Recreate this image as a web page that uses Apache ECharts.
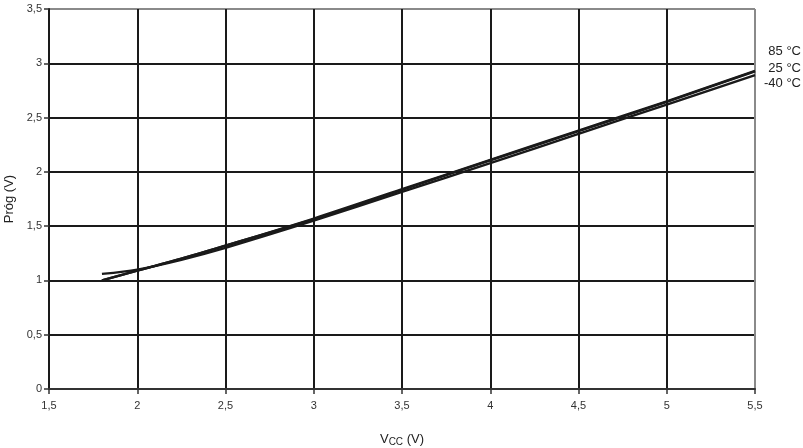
<!DOCTYPE html>
<html><head><meta charset="utf-8">
<script src="https://cdn.jsdelivr.net/npm/echarts@6/dist/echarts.min.js"></script>
<style>html,body{margin:0;padding:0;background:#fff}#c{width:803px;height:448px}</style>
</head><body><div id="c"></div>
<script>
var vcc = [1.8, 2.0, 2.25, 2.5, 3.0, 3.5, 4.0, 4.5, 5.0, 5.5];
var t85 = [1.00, 1.09, 1.20, 1.32, 1.57, 1.84, 2.11, 2.38, 2.65, 2.93];
var t25 = [1.00, 1.09, 1.20, 1.32, 1.565, 1.835, 2.105, 2.375, 2.645, 2.925];
var tm40 = [1.06, 1.10, 1.19, 1.30, 1.55, 1.815, 2.08, 2.35, 2.62, 2.89];
var seriesNames = ['85 °C', '25 °C', '-40 °C'];
var xTicks = [1.5, 2, 2.5, 3, 3.5, 4, 4.5, 5, 5.5];
var yTicks = [0, 0.5, 1, 1.5, 2, 2.5, 3, 3.5];

function pairs(ys){ return vcc.map(function(x,i){return [x, ys[i]];}); }
function fmt(v){ return String(v).replace('.', ','); }
var dark = '#1a1a1a';
var xCols = xTicks.map(function(v,i){ return i === xTicks.length-1 ? '#8a8a8a' : dark; });
var yCols = yTicks.map(function(v,i){ return i === yTicks.length-1 ? '#8a8a8a' : dark; });

var chart = echarts.init(document.getElementById('c'));
var mk = function(name, ys){
  return {name: name, type: 'line', data: pairs(ys), showSymbol: false, smooth: 0.3,
    lineStyle: {color: dark, width: 2.4}, silent: true};
};
chart.setOption({
  animation: false,
  grid: {left: 49, right: 48, top: 9, bottom: 59, show: false, containLabel: false, outerBoundsMode: 'none'},
  xAxis: {type: 'value', min: 1.5, max: 5.5, interval: 0.5,
    name: 'V{s|CC} (V)', nameLocation: 'middle', nameGap: 42,
    nameTextStyle: {fontFamily: 'Liberation Sans', fontSize: 13, color: '#222',
      rich: {s: {fontSize: 10, verticalAlign: 'bottom', padding: [6,0,0,0], fontFamily: 'Liberation Sans', color: '#222'}}},
    axisLine: {lineStyle: {color: '#333', width: 2}},
    axisTick: {length: 5, lineStyle: {color: '#333', width: 1.5}},
    axisLabel: {formatter: fmt, fontFamily: 'Liberation Sans', fontSize: 11, color: '#333', margin: 11},
    splitLine: {lineStyle: {color: xCols, width: 2}}},
  yAxis: {type: 'value', min: 0, max: 3.5, interval: 0.5,
    name: 'Próg (V)', nameLocation: 'middle', nameGap: 33, nameRotate: 90,
    nameTextStyle: {fontFamily: 'Liberation Sans', fontSize: 13, color: '#222'},
    axisLine: {show: true, lineStyle: {color: dark, width: 2}},
    axisTick: {show: true, length: 5, lineStyle: {color: '#333', width: 1.5}},
    axisLabel: {formatter: fmt, fontFamily: 'Liberation Sans', fontSize: 11, color: '#333', margin: 7},
    splitLine: {lineStyle: {color: yCols, width: 2}}},
  series: [mk(seriesNames[0], t85), mk(seriesNames[1], t25), mk(seriesNames[2], tm40)],
  graphic: [
    {type: 'text', right: 2, top: 45, style: {text: seriesNames[0], font: '13px Liberation Sans', fill: '#222'}},
    {type: 'text', right: 2, top: 62, style: {text: seriesNames[1], font: '13px Liberation Sans', fill: '#222'}},
    {type: 'text', right: 2, top: 77, style: {text: seriesNames[2], font: '13px Liberation Sans', fill: '#222'}}
  ]
});
</script></body></html>
